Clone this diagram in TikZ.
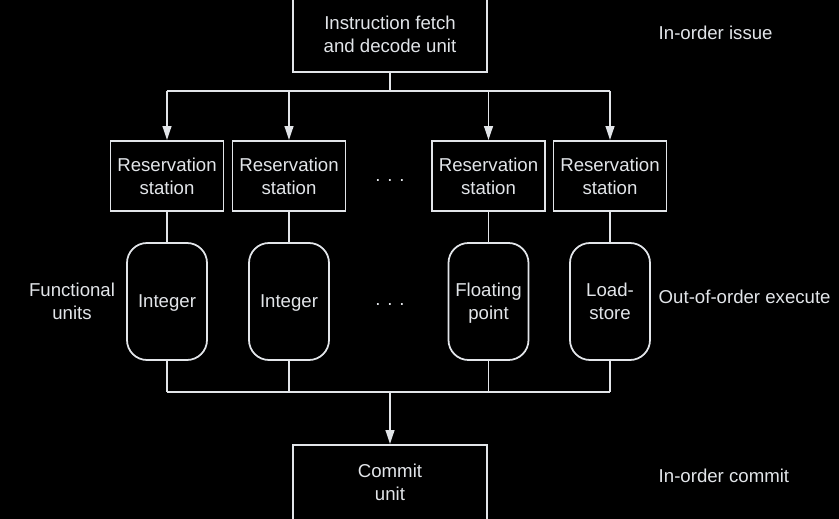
\documentclass[tikz,border=0pt]{standalone}
\usepackage{fontspec}
\setmainfont{Liberation Sans}
\usetikzlibrary{arrows.meta}
\definecolor{ink}{RGB}{226,229,233}
\tikzset{
  unit/.style={draw, line width=1pt, align=center},
  rsbox/.style={unit, minimum width=22.6mm, minimum height=14mm},
  fubox/.style={unit, rounded corners=4mm, minimum width=16mm, minimum height=23.4mm, text depth=0pt},
  bigbox/.style={unit, minimum width=38.8mm, minimum height=15mm},
  note/.style={anchor=west},
  feed/.style={-{Triangle[length=8pt,width=5pt]}},
}
\begin{document}
\begin{tikzpicture}[x=0.2mm, y=-0.2mm, color=ink, line width=1pt, font=\fontsize{10.6}{13.1}\selectfont]
		\useasboundingbox (0,0) rectangle (839,519);
		\fill[black] (0,0) rectangle (839,519);
		\clip (0,0) rectangle (839,519);
		\def\myUnits{1/167/Integer, 2/289/Integer, 3/488.5/Floating\\point, 4/610/Load-\\store}
		\node[bigbox] (fetch) at (390,34.5) {Instruction fetch\\and decode unit};
		\node[bigbox] (commit) at (390,482.5) {Commit\\unit};
		\foreach \i/\x/\name in \myUnits {
			\node[rsbox] (rs\i) at (\x,176) {Reservation\\station};
			\node[fubox] (fu\i) at (\x,301.5) {\name};
		}
		\node (gap1) at (390,181) {. . .};
		\node (gap2) at (390,305) {. . .};
		\node[align=center] (fulbl) at (72,301) {Functional\\units};
		\node[note] (issuelbl) at (652,33) {In-order issue};
		\node[note] (execlbl) at (652,297) {Out-of-order execute};
		\node[note] (commitlbl) at (652,476) {In-order commit};
		\coordinate (issue) at (390,91);
		\coordinate (result) at (390,392);
		\draw (fetch) -- (issue);
		\draw (rs1.north |- issue) -- (rs4.north |- issue);
		\draw (fu1 |- result) -- (fu4 |- result);
		\foreach \i in {1,...,4} {
			\draw[feed] (rs\i.north |- issue) -- (rs\i);
			\draw (rs\i) -- (fu\i);
			\draw (fu\i) -- (fu\i |- result);
		}
		\draw[feed] (result) -- (commit);
	\end{tikzpicture}
\end{document}
